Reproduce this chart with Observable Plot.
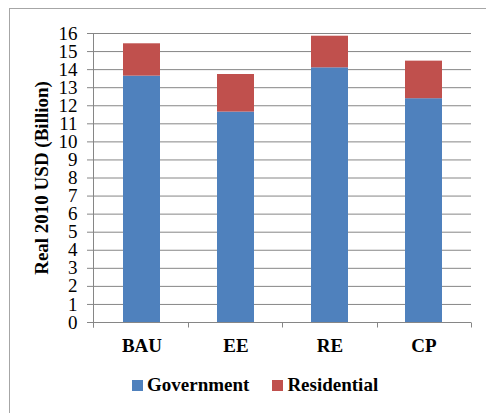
<!DOCTYPE html>
<html>
<head>
<meta charset="utf-8">
<script src="https://cdn.jsdelivr.net/npm/d3@7"></script>
<script src="https://cdn.jsdelivr.net/npm/@observablehq/plot@0.6"></script>
<style>
  html, body { margin: 0; padding: 0; background: #fff; }
  #wrap { position: relative; width: 486px; height: 413px; overflow: hidden; background: #fff;
          font-family: "Liberation Serif", "Times New Roman", serif; }
  #border { position: absolute; left: 9px; top: 8px; width: 600px; height: 600px;
            border: 1px solid #a6a6a6; box-sizing: border-box; }
  #chart { position: absolute; left: 0; top: 0; }
  #legend { position: absolute; left: 132px; top: 376px; display: flex; align-items: center;
            font-weight: bold; font-size: 19px; line-height: 18px; color: #000; white-space: nowrap; }
  .sw { display: inline-block; width: 11px; height: 11px; margin-right: 4px; }
  .item { display: flex; align-items: center; margin-right: 23px; }
</style>
</head>
<body>
<div id="wrap">
  <div id="border"></div>
  <div id="chart"></div>
  <div id="legend"></div>
</div>
<script>
// Scenarios and cost components (billions of real 2010 USD)
const categories = ["BAU", "EE", "RE", "CP"];
const government = [13.64, 11.65, 14.10, 12.39];
const residential = [1.79, 2.08, 1.75, 2.08];
const seriesNames = ["Government", "Residential"];
const seriesColors = ["#4f81bd", "#c0504d"];
const yTicks = [0, 1, 2, 3, 4, 5, 6, 7, 8, 9, 10, 11, 12, 13, 14, 15, 16];
const yTitle = "Real 2010 USD (Billion)";

const rows = categories.flatMap((c, i) => [
  {scenario: c, sector: seriesNames[0], value: government[i]},
  {scenario: c, sector: seriesNames[1], value: residential[i]}
]);

const gray = "#868686";
const font = "'Liberation Serif', 'Times New Roman', serif";

const chart = Plot.plot({
  width: 486,
  height: 360,
  marginLeft: 93,
  marginRight: 15,
  marginTop: 33,
  marginBottom: 38,
  style: {fontFamily: font, fontSize: "19px", color: "#000", background: "transparent", overflow: "visible"},
  x: {domain: categories, paddingInner: 0.608, paddingOuter: 0.304, label: null},
  y: {domain: [0, 16], label: null},
  color: {domain: seriesNames, range: seriesColors},
  marks: [
    Plot.gridY(yTicks, {stroke: gray, strokeOpacity: 1}),
    Plot.axisY(yTicks, {tickSize: 6, tickPadding: 10, stroke: gray, fill: "#000", fontSize: 19, label: null, tickFormat: d => String(d)}),
    Plot.barY(rows, {x: "scenario", y: "value", fill: "sector"}),
    Plot.ruleY([0], {stroke: gray}),
    Plot.axisX({tickSize: 0, tickPadding: 16, fontWeight: "bold", fontSize: 19, fill: "#000", label: null}),
    Plot.text([yTitle], {frameAnchor: "left", textAnchor: "middle", rotate: -90, dx: -52, fontWeight: "bold", fontSize: 19, fill: "#000"})
  ]
});

// Left axis line and category boundary ticks, placed from the chart's own scales
const xs = chart.scale("x");
const ys = chart.scale("y");
const [xa, xb] = xs.range;
const y0 = ys.apply(0);
const yTop = ys.apply(d3.max(yTicks));
const g = d3.select(chart).append("g").attr("stroke", gray).attr("fill", "none");
g.append("line").attr("x1", xa + 0.5).attr("x2", xa + 0.5).attr("y1", yTop).attr("y2", y0 + 5.5);
for (let i = 0; i <= categories.length; i++) {
  const xv = Math.round(xa + i * (xb - xa) / categories.length) + 0.5;
  g.append("line").attr("x1", xv).attr("x2", xv).attr("y1", y0 + 0.5).attr("y2", y0 + 5.5);
}

document.getElementById("chart").appendChild(chart);

// Legend
const legend = d3.select("#legend");
seriesNames.forEach((name, i) => {
  const item = legend.append("span").attr("class", "item");
  item.append("span").attr("class", "sw").style("background", seriesColors[i]);
  item.append("span").text(name);
});
</script>
</body>
</html>
